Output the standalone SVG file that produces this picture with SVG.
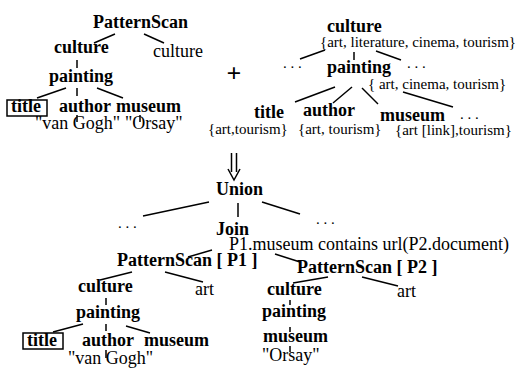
<svg xmlns="http://www.w3.org/2000/svg" width="521" height="370" viewBox="0 0 521 370">
<style>
text{font-family:"Liberation Serif","Times New Roman",serif;fill:#000}
.b{font-weight:bold;font-size:18px}
.n{font-size:18px}
.s{font-size:15px}
.e{font-size:15px}
#connectors line,#connectors path{stroke:#000;stroke-width:1.5;fill:none}
.box{fill:none;stroke:#000;stroke-width:1.5}
</style>
<rect width="521" height="370" fill="#fff"/>
<g id="connectors">
<line x1="115" y1="34" x2="94" y2="43"/>
<line x1="144" y1="34" x2="164" y2="43"/>
<line x1="77" y1="60" x2="77" y2="68"/>
<line x1="66" y1="88" x2="37" y2="98"/>
<line x1="77" y1="88" x2="77" y2="96"/>
<line x1="97" y1="88" x2="123" y2="98"/>
<line x1="77" y1="115" x2="77" y2="122"/>
<line x1="140" y1="115" x2="140" y2="122"/>
<line x1="325" y1="50" x2="300" y2="59"/>
<line x1="354" y1="52" x2="354" y2="60"/>
<line x1="376" y1="51" x2="401" y2="60"/>
<line x1="335" y1="87" x2="295" y2="102"/>
<line x1="352" y1="87" x2="333" y2="103"/>
<line x1="362" y1="88" x2="378" y2="104"/>
<line x1="403" y1="92" x2="453" y2="107"/>
<path d="M231.5 153 V172 M236.5 153 V172 M228 169 L234 180 L240 169"/>
<line x1="209" y1="202" x2="143" y2="216"/>
<line x1="238" y1="203" x2="238" y2="217"/>
<line x1="262" y1="202" x2="300" y2="214"/>
<line x1="212" y1="250" x2="188" y2="257"/>
<line x1="275" y1="254" x2="300" y2="262"/>
<line x1="132" y1="272" x2="100" y2="280"/>
<line x1="165" y1="272" x2="203" y2="282"/>
<line x1="106" y1="298" x2="106" y2="305"/>
<line x1="83" y1="324" x2="53" y2="332"/>
<line x1="106" y1="324" x2="106" y2="331"/>
<line x1="126" y1="326" x2="150" y2="333"/>
<line x1="106" y1="350" x2="106" y2="358"/>
<line x1="328" y1="277" x2="293" y2="283"/>
<line x1="362" y1="277" x2="398" y2="286"/>
<line x1="290" y1="300" x2="290" y2="305"/>
<line x1="290" y1="327" x2="290" y2="332"/>
<line x1="290" y1="346" x2="290" y2="352"/>
</g>
<g id="tl-patternscan"><text class="b" x="93" y="28">PatternScan</text></g>
<g id="tl-culture"><text class="b" x="54" y="53">culture</text></g>
<g id="tl-culture-val"><text class="n" x="153" y="57">culture</text></g>
<g id="tl-painting"><text class="b" x="49" y="82">painting</text></g>
<g id="tl-title"><rect class="box" x="7" y="100" width="40" height="16"/><text class="b" x="11" y="112">title</text></g>
<g id="tl-author"><text class="b" x="59" y="112">author</text></g>
<g id="tl-museum"><text class="b" x="116" y="112">museum</text></g>
<g id="tl-vangogh"><text class="n" x="35" y="129">"van Gogh"</text></g>
<g id="tl-orsay"><text class="n" x="125" y="129">"Orsay"</text></g>
<g id="plus"><text class="b" x="234" y="82" text-anchor="middle" style="font-size:26px">+</text></g>
<g id="tr-culture"><text class="b" x="327" y="32">culture</text><text class="s" x="320" y="47">{art, literature, cinema, tourism}</text></g>
<g id="tr-dots1"><text class="e" x="283" y="68">. . .</text></g>
<g id="tr-painting"><text class="b" x="327" y="73">painting</text><text class="s" x="368" y="89">{ art, cinema, tourism}</text></g>
<g id="tr-dots2"><text class="e" x="407" y="68">. . .</text></g>
<g id="tr-title"><text class="b" x="254" y="118">title</text><text class="s" x="208" y="134">{art,tourism}</text></g>
<g id="tr-author"><text class="b" x="303" y="116">author</text><text class="s" x="298" y="134">{art, tourism}</text></g>
<g id="tr-museum"><text class="b" x="380" y="121">museum</text><text class="s" x="395" y="135">{art [link],tourism}</text></g>
<g id="tr-dots3"><text class="e" x="460" y="119">. . .</text></g>
<g id="union"><text class="b" x="216" y="195">Union</text></g>
<g id="u-dots1"><text class="e" x="118" y="228">. . .</text></g>
<g id="u-dots2"><text class="e" x="316" y="224">. . .</text></g>
<g id="join"><text class="b" x="216" y="235">Join</text><text class="n" x="229" y="250">P1.museum contains url(P2.document)</text></g>
<g id="p1"><text class="b" x="117" y="266">PatternScan [ P1 ]</text></g>
<g id="p1-culture"><text class="b" x="78" y="292">culture</text></g>
<g id="p1-art"><text class="n" x="195" y="295">art</text></g>
<g id="p1-painting"><text class="b" x="76" y="318">painting</text></g>
<g id="p1-title"><rect class="box" x="23" y="333" width="40" height="16"/><text class="b" x="27" y="346">title</text></g>
<g id="p1-author"><text class="b" x="82" y="346">author</text></g>
<g id="p1-museum"><text class="b" x="144" y="346">museum</text></g>
<g id="p1-vangogh"><text class="n" x="68" y="364">"van Gogh"</text></g>
<g id="p2"><text class="b" x="297" y="273">PatternScan [ P2 ]</text></g>
<g id="p2-culture"><text class="b" x="267" y="295">culture</text></g>
<g id="p2-art"><text class="n" x="397" y="297">art</text></g>
<g id="p2-painting"><text class="b" x="262" y="317">painting</text></g>
<g id="p2-museum"><text class="b" x="263" y="342">museum</text></g>
<g id="p2-orsay"><text class="n" x="262" y="361">"Orsay"</text></g>
</svg>
